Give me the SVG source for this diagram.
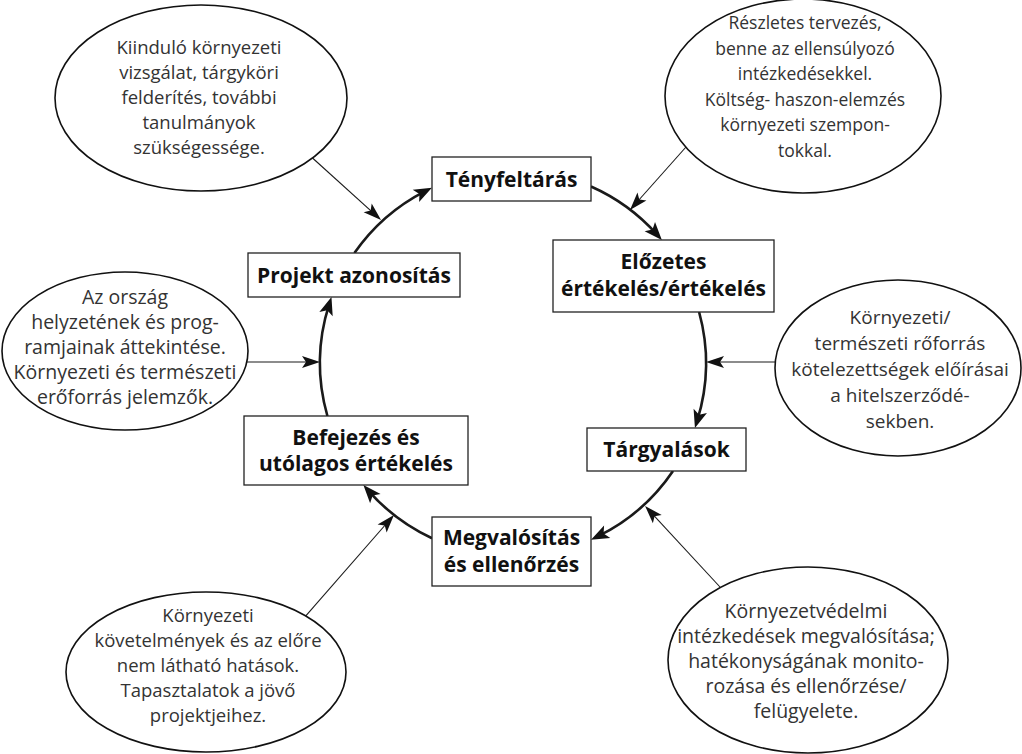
<svg xmlns="http://www.w3.org/2000/svg" width="1022" height="754" viewBox="0 0 1022 754">
<style>
.box{fill:#fff;stroke:#222;stroke-width:1.3}
.bt{font-family:"Open Sans","Noto Sans","Liberation Sans",sans-serif;font-weight:bold;font-size:21px;fill:#111;text-anchor:middle}
.el{fill:#fff;stroke:#111;stroke-width:1.6}
.et{font-family:"Open Sans","Noto Sans","Liberation Sans",sans-serif;font-size:18.5px;fill:#333;text-anchor:middle}
.s17{font-size:17.5px}
.s19{font-size:19px}
.s195{font-size:19.5px}
.cyc{fill:none;stroke:#1a1a1a;stroke-width:2.6;marker-end:url(#ah)}
.thin{fill:none;stroke:#1a1a1a;stroke-width:1.1;marker-end:url(#ahs)}
</style>
<defs>
<marker id="ah" markerUnits="userSpaceOnUse" viewBox="-15 -15 30 30" refX="0" refY="0" markerWidth="30" markerHeight="30" orient="auto">
<path d="M8,0 L-10,-7 L-6,0 L-10,7 Z" fill="#111"/>
</marker>
<marker id="ahs" markerUnits="userSpaceOnUse" viewBox="-15 -15 30 30" refX="0" refY="0" markerWidth="30" markerHeight="30" orient="auto">
<path d="M8,0 L-10,-6 L-6,0 L-10,6 Z" fill="#111"/>
</marker>
</defs>

<g id="connectors">
<path class="cyc" d="M354.4,253 A193,193 0 0 1 424.8,191.3"/>
<path class="cyc" d="M591,186.5 A193,193 0 0 1 656.5,234.0"/>
<path class="cyc" d="M699.1,312 A193,193 0 0 1 697.3,420.4"/>
<path class="cyc" d="M673,471 A193,193 0 0 1 598.2,536.2"/>
<path class="cyc" d="M432,538.2 A193,193 0 0 1 368.7,491.1"/>
<path class="cyc" d="M327.4,416 A193,193 0 0 1 329.05,304.6"/>
<path class="thin" d="M312.5,158 L375.1,214.6"/>
<path class="thin" d="M686,147 L635.3,204.0"/>
<path class="thin" d="M247,362 L312,362"/>
<path class="thin" d="M775,362 L714,362"/>
<path class="thin" d="M305.8,615.9 L388.7,521.0"/>
<path class="thin" d="M720,587 L650.5,511.8"/>
</g>

<g id="tenyfeltaras">
<rect class="box" x="432" y="157" width="159" height="44"/>
<text class="bt" x="511.5" y="186.5">Tényfeltárás</text>
</g>
<g id="elozetes">
<rect class="box" x="553" y="240" width="221" height="72"/>
<text class="bt" x="663.5" y="269">Előzetes</text>
<text class="bt" x="663.5" y="296">értékelés/értékelés</text>
</g>
<g id="targyalasok">
<rect class="box" x="587" y="428" width="159" height="43"/>
<text class="bt" x="666.5" y="457">Tárgyalások</text>
</g>
<g id="megvalositas">
<rect class="box" x="432" y="517" width="159" height="69"/>
<text class="bt" x="511.5" y="545">Megvalósítás</text>
<text class="bt" x="511.5" y="572">és ellenőrzés</text>
</g>
<g id="befejezes">
<rect class="box" x="244" y="416" width="224" height="69"/>
<text class="bt" x="356" y="445">Befejezés és</text>
<text class="bt" x="356" y="471">utólagos értékelés</text>
</g>
<g id="projekt">
<rect class="box" x="248" y="253" width="212" height="44"/>
<text class="bt" x="354" y="282.5">Projekt azonosítás</text>
</g>

<g id="ell-topleft">
<ellipse class="el" cx="201" cy="98" rx="146" ry="93"/>
<text class="et" x="199" y="54">Kiinduló környezeti</text>
<text class="et" x="199" y="79">vizsgálat, tárgyköri</text>
<text class="et" x="199" y="104">felderítés, további</text>
<text class="et" x="199" y="129">tanulmányok</text>
<text class="et" x="199" y="154">szükségessége.</text>
</g>
<g id="ell-topright">
<ellipse class="el" cx="803" cy="96" rx="138" ry="97"/>
<text class="et s17" x="805" y="29">Részletes tervezés,</text>
<text class="et s17" x="805" y="54.5">benne az ellensúlyozó</text>
<text class="et s17" x="805" y="80">intézkedésekkel.</text>
<text class="et s17" x="805" y="105.5">Költség- haszon-elemzés</text>
<text class="et s17" x="805" y="131">környezeti szempon-</text>
<text class="et s17" x="805" y="156.5">tokkal.</text>
</g>
<g id="ell-left">
<ellipse class="el" cx="125" cy="351" rx="123" ry="79"/>
<text class="et s195" x="125" y="304">Az ország</text>
<text class="et s195" x="125" y="329">helyzetének és prog-</text>
<text class="et s195" x="125" y="354">ramjainak áttekintése.</text>
<text class="et s195" x="125" y="379">Környezeti és természeti</text>
<text class="et s195" x="125" y="404">erőforrás jelemzők.</text>
</g>
<g id="ell-right">
<ellipse class="el" cx="898" cy="368" rx="123" ry="88"/>
<text class="et s19" x="900" y="324">Környezeti/</text>
<text class="et s19" x="900" y="350">természeti rőforrás</text>
<text class="et s19" x="900" y="376">kötelezettségek előírásai</text>
<text class="et s19" x="900" y="402">a hitelszerződé-</text>
<text class="et s19" x="900" y="428">sekben.</text>
</g>
<g id="ell-bottomleft">
<ellipse class="el" cx="206" cy="672" rx="140" ry="80"/>
<text class="et" x="208" y="622">Környezeti</text>
<text class="et" x="208" y="647">követelmények és az előre</text>
<text class="et" x="208" y="672">nem látható hatások.</text>
<text class="et" x="208" y="697">Tapasztalatok a jövő</text>
<text class="et" x="208" y="722">projektjeihez.</text>
</g>
<g id="ell-bottomright">
<ellipse class="el" cx="808" cy="660" rx="140" ry="93"/>
<text class="et s195" x="806" y="618">Környezetvédelmi</text>
<text class="et s195" x="806" y="643">intézkedések megvalósítása;</text>
<text class="et s195" x="806" y="668">hatékonyságának monito-</text>
<text class="et s195" x="806" y="693">rozása és ellenőrzése/</text>
<text class="et s195" x="806" y="718">felügyelete.</text>
</g>
</svg>
